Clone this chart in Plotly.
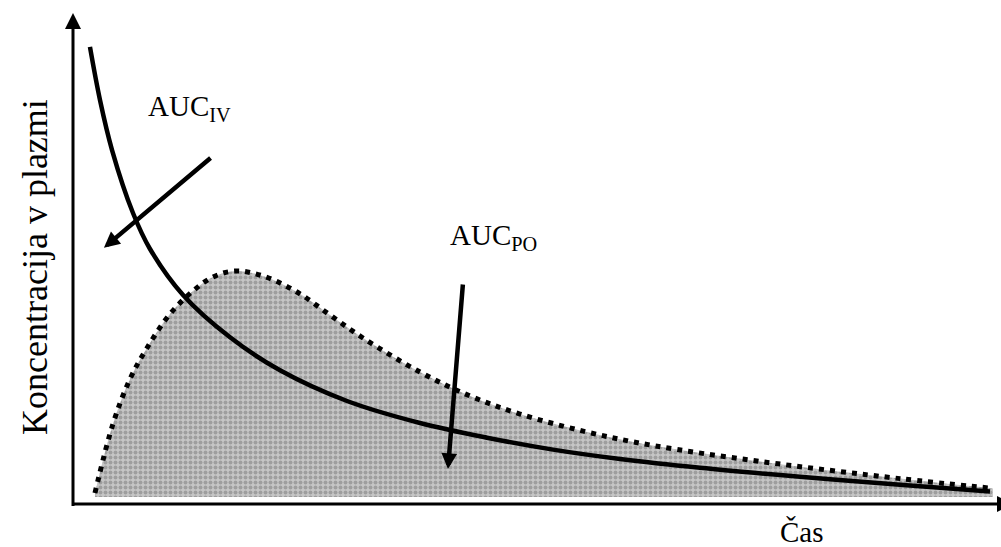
import plotly.graph_objects as go

# --- data (arbitrary time / concentration units) ---
iv_time = [1.83, 2.91, 4.21, 6.47, 8.31, 11.87, 16.94, 22.33, 29.56, 37.43,
           44.66, 51.78, 59.01, 67.64, 78.43, 89.21, 98.92]
iv_conc = [93.46, 82.62, 72.39, 59.51, 52.15, 42.74, 34.09, 27.34, 21.06, 16.56,
           13.56, 11.12, 9.20, 7.40, 5.56, 3.93, 2.54]

po_time = [2.37, 4.31, 6.15, 7.98, 10.46, 12.94, 15.10, 17.48, 20.50, 24.16,
           27.72, 31.28, 37.43, 42.83, 48.22, 55.45, 62.57, 74.11, 89.21, 99.24]
po_conc = [2.25, 16.36, 25.56, 31.90, 38.85, 43.56, 46.42, 47.65, 46.63, 43.35,
           38.65, 33.95, 26.99, 22.09, 18.40, 14.72, 11.96, 8.71, 5.19, 3.19]
po_base = [1.43] * len(po_time)

# pointer arrows (tail -> tip), in data units
iv_arrow_x = [15.0, 3.34]
iv_arrow_y = [71.0, 52.4]
po_arrow_x = [42.07, 40.45]
po_arrow_y = [45.2, 7.16]

y_label = "Koncentracija v plazmi"
x_label = "Čas"
label_iv = "AUC<sub>IV</sub>"
label_po = "AUC<sub>PO</sub>"

FONT = "Liberation Serif, Times New Roman, serif"

W, H = 1001, 547
ML, MR, MT, MB = 63, 1, 5, 33
PW, PH = W - ML - MR, H - MT - MB


def px(xp):
    return (xp - ML) / PW


def py(yp):
    return (H - MB - yp) / PH


fig = go.Figure()

# baseline for the PO area
fig.add_trace(go.Scatter(x=po_time, y=po_base, mode="lines",
                         line=dict(width=0, color="rgba(0,0,0,0)"),
                         hoverinfo="skip", showlegend=False))
# PO curve with textured fill
fig.add_trace(go.Scatter(
    x=po_time, y=po_conc, mode="lines", fill="tonexty",
    line=dict(color="black", width=5, dash="5px,6px", shape="spline", smoothing=1.0),
    fillcolor="#b0b0b0",
    fillpattern=dict(shape=".", fgcolor="#767676", bgcolor="#c6c6c6",
                     size=5, solidity=0.5),
    hoverinfo="skip", showlegend=False))
# IV curve
fig.add_trace(go.Scatter(
    x=iv_time, y=iv_conc, mode="lines",
    line=dict(color="black", width=4.5, shape="spline", smoothing=1.0),
    hoverinfo="skip", showlegend=False))

# axes drawn as arrows (paper coordinates from pixel positions)
shapes = [
    dict(type="line", xref="paper", yref="paper",
         x0=px(73), y0=py(506), x1=px(73), y1=py(27),
         line=dict(color="black", width=3)),
    dict(type="path", xref="paper", yref="paper",
         path=f"M{px(65)},{py(29)} L{px(81)},{py(29)} L{px(73)},{py(13)} Z",
         fillcolor="black", line=dict(width=0)),
    dict(type="line", xref="paper", yref="paper",
         x0=px(72), y0=py(504), x1=px(1001), y1=py(504),
         line=dict(color="black", width=3)),
    dict(type="path", xref="paper", yref="paper",
         path=f"M{px(997)},{py(496)} L{px(997)},{py(512)} L{px(1013)},{py(504)} Z",
         fillcolor="black", line=dict(width=0)),
]

ann = []
for ax_, ay_ in ((iv_arrow_x, iv_arrow_y), (po_arrow_x, po_arrow_y)):
    ann.append(dict(x=ax_[1], y=ay_[1], ax=ax_[0], ay=ay_[0],
                    xref="x", yref="y", axref="x", ayref="y",
                    text="", showarrow=True, arrowhead=2, arrowsize=0.7,
                    arrowwidth=4.5, arrowcolor="black"))

ann += [
    dict(x=12.6, y=81.0, xref="x", yref="y", text=label_iv, showarrow=False,
         xanchor="center", yanchor="middle",
         font=dict(family=FONT, size=29, color="black")),
    dict(x=45.4, y=54.6, xref="x", yref="y", text=label_po, showarrow=False,
         xanchor="center", yanchor="middle",
         font=dict(family=FONT, size=29, color="black")),
    dict(x=px(802), y=py(532), xref="paper", yref="paper", text=x_label, showarrow=False,
         xanchor="center", yanchor="middle",
         font=dict(family=FONT, size=29, color="black")),
    dict(x=px(35), y=py(267), xref="paper", yref="paper", text=y_label, showarrow=False,
         xanchor="center", yanchor="middle", textangle=-90,
         font=dict(family=FONT, size=36, color="black")),
]

fig.update_layout(
    width=W, height=H,
    margin=dict(l=ML, r=MR, t=MT, b=MB),
    paper_bgcolor="white", plot_bgcolor="white",
    xaxis=dict(range=[-1.0787, 100.0], visible=False, fixedrange=True),
    yaxis=dict(range=[-2.045, 102.045], visible=False, fixedrange=True),
    annotations=ann,
    shapes=shapes,
    showlegend=False,
)

fig.write_html("out.html", config={"displayModeBar": False})
